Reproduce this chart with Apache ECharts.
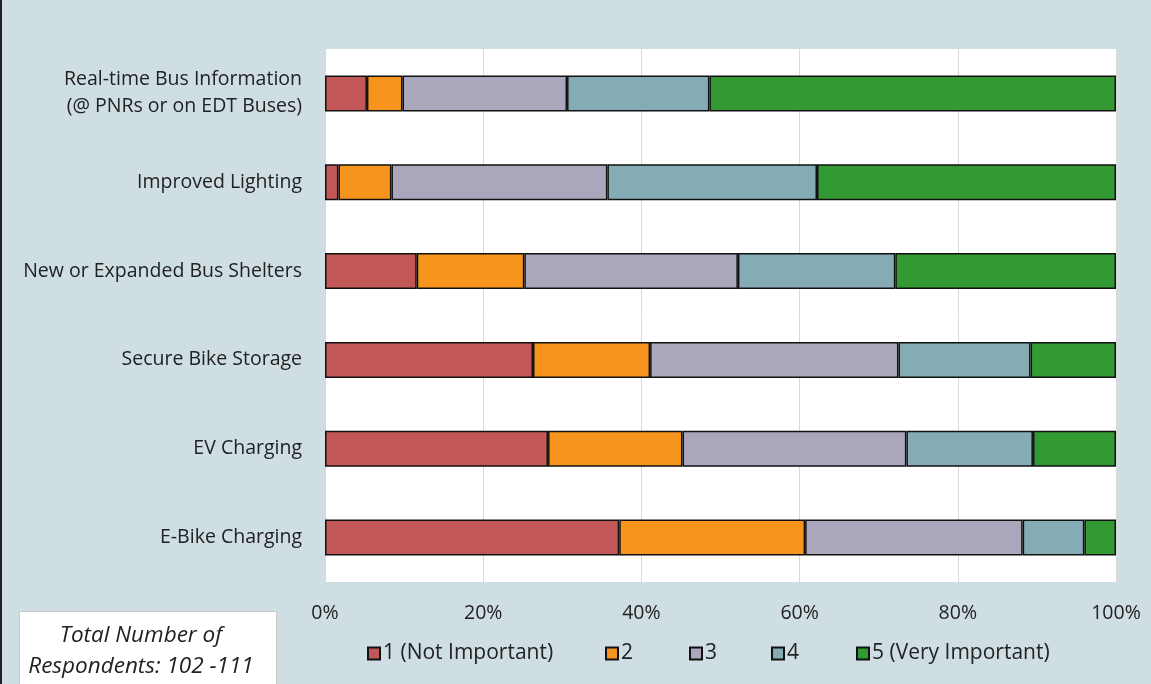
<!DOCTYPE html>
<html>
<head>
<meta charset="utf-8">
<script src="https://cdn.jsdelivr.net/npm/echarts@6/dist/echarts.min.js"></script>
<style>
html,body{margin:0;padding:0;background:#CFDEE3;}
#chart{width:1151px;height:684px;}
</style>
</head>
<body>
<div id="chart"></div>
<script>
const categories = [
  "Real-time Bus Information\n(@ PNRs or on EDT Buses)",
  "Improved Lighting",
  "New or Expanded Bus Shelters",
  "Secure Bike Storage",
  "EV Charging",
  "E-Bike Charging"
];
const seriesNames = ["1 (Not Important)", "2", "3", "4", "5 (Very Important)"];
const s1 = [5.3, 1.7, 11.6, 26.3, 28.2, 37.2];
const s2 = [4.5, 6.7, 13.6, 14.8, 17.0, 23.5];
const s3 = [20.8, 27.3, 27.0, 31.4, 28.3, 27.5];
const s4 = [18.0, 26.5, 19.9, 16.7, 16.0, 7.8];
const s5 = [51.4, 37.8, 27.9, 10.8, 10.5, 4.0];
const tickLabels = ["0%", "20%", "40%", "60%", "80%", "100%"];
const colors = ["#C25757", "#F7941E", "#AAA7BD", "#85ACB5", "#339933"];
const legendLefts = [367, 605, 689, 771, 856];

const allSeries = [s1, s2, s3, s4, s5];
const chart = echarts.init(document.getElementById('chart'));
const FONT = "Open Sans";
chart.setOption({
  backgroundColor: "#CFDEE3",
  animation: false,
  textStyle: { fontFamily: FONT },
  grid: { left: 325, right: 35, top: 49, bottom: 102, show: true, backgroundColor: "#FFFFFF", borderWidth: 0 },
  xAxis: {
    type: "value", min: 0, max: 100, interval: 20,
    axisLine: { show: false }, axisTick: { show: false },
    splitLine: { lineStyle: { color: "#D9D9D9", width: 1 } },
    axisLabel: { margin: 21, fontSize: 19.5, color: "#222", fontFamily: FONT,
      formatter: v => tickLabels[Math.round(v / 20)] }
  },
  yAxis: {
    type: "category", data: categories, inverse: true,
    axisLine: { show: false }, axisTick: { show: false },
    axisLabel: { margin: 23, fontSize: 19.5, color: "#222", lineHeight: 27, fontFamily: FONT,
      align: "right", padding: [7, 0, 0, 0] }
  },
  legend: seriesNames.map((n, i) => ({
    data: [n], bottom: 20, left: legendLefts[i],
    itemWidth: 12, itemHeight: 12, icon: "rect", padding: 0,
    textStyle: { fontSize: 21, color: "#222", fontFamily: FONT, padding: [0, 0, 0, -2] }
  })),
  graphic: [
    { type: "line", shape: { x1: 1, y1: 0, x2: 1, y2: 684 }, style: { stroke: "#222", lineWidth: 2 } },
    { type: "rect", left: 19, top: 611, shape: { width: 257, height: 80 },
      style: { fill: "#FFFFFF", stroke: "#C8C8C8", lineWidth: 1 } },
    { type: "text", x: 141, y: 620,
      style: { text: "Total Number of\nRespondents: 102 -111", fill: "#222", fontSize: 22.5,
        fontStyle: "italic", fontFamily: FONT, textAlign: "center", lineHeight: 31 } }
  ],
  series: allSeries.map((d, i) => ({
    name: seriesNames[i], type: "bar", stack: "total", data: d,
    barWidth: 36,
    itemStyle: { color: colors[i], borderColor: "#111", borderWidth: 1.5 }
  }))
});
</script>
</body>
</html>
